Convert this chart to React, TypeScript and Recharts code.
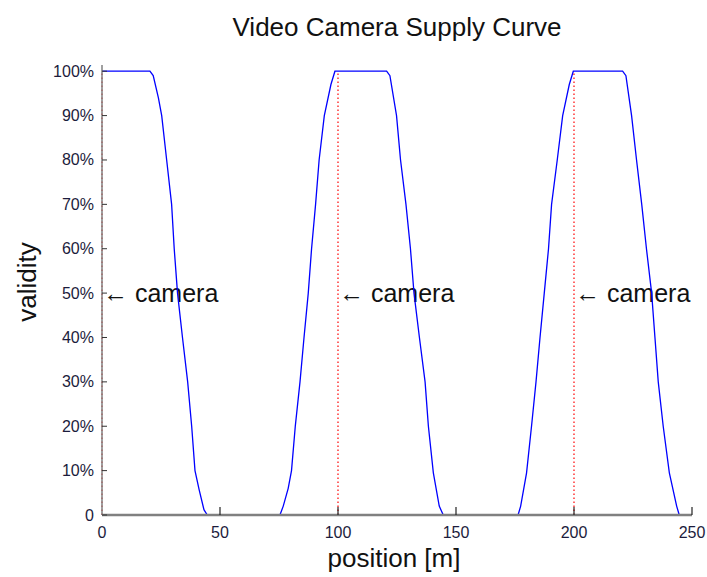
import { LineChart, Line, XAxis, YAxis, ReferenceLine } from 'recharts';

// positions along the road [m]; null validity = gap between camera zones
const positions = [
  0, 20.3, 21.7, 23.9, 25.3, 27.4, 29.5, 30.6, 32, 34.1, 36.3, 38, 39.4, 41.2, 43.2, 44.6,
  60,
  75.4, 76.8, 78.9, 80.3, 81.9, 83.9, 85.6, 87.4, 88.8, 90.5, 92, 94.2, 97, 98.7,
  120.6, 122, 124.8, 126.5, 128.8, 130.7, 132.2, 134.5, 136.9, 138.3, 140.4, 142.9, 144.6,
  160,
  176.3, 177.4, 179.9, 182, 183.9, 185.6, 187.4, 189.2, 190.5, 192.9, 195.2, 198, 199.7,
  220.6, 222, 224.4, 226.5, 228.7, 230.7, 232.9, 234.3, 235.7, 237.8, 240.4, 243.5, 244.6,
];

const validity = [
  100, 100, 99, 94, 90, 80, 70, 60, 50, 40, 30, 20, 10, 5.6, 1.2, 0,
  null,
  0, 2, 6, 10, 20, 30, 40, 50, 60, 70, 80, 90, 97, 100,
  100, 99, 90, 80, 70, 60, 50, 40, 30, 20, 9.5, 2, 0,
  null,
  0, 2, 9.5, 20, 30, 40, 50, 60, 70, 80, 90, 97, 100,
  100, 99, 90, 80, 70, 60, 50, 40, 30, 20, 9.5, 2, 0,
];

const cameras = [0, 100, 200];
const xTicks = [0, 50, 100, 150, 200, 250];
const yTicks = [0, 10, 20, 30, 40, 50, 60, 70, 80, 90, 100];

const data = positions.map((pos, i) => ({ pos, validity: validity[i] }));

const FONT = '"Liberation Sans", Arial, sans-serif';

const YTick = (props: any) => {
  const { x, y, payload } = props;
  const v = payload.value;
  return (
    <g>
      <line x1={x + 8} x2={x + 13} y1={y} y2={y} stroke="#333" strokeWidth={1} />
      <text x={x} y={y} textAnchor="end" dominantBaseline="central" fontSize={16} fontFamily={FONT} fill="#1c1c3c">
        {v === 0 ? '0' : `${v}%`}
      </text>
    </g>
  );
};

const XTick = (props: any) => {
  const { x, y, payload } = props;
  return (
    <g>
      {payload.value !== 0 && <line x1={x} x2={x} y1={y - 10} y2={y - 18} stroke="#222" strokeWidth={1.2} />}
      <text x={x} y={y + 7} textAnchor="middle" dominantBaseline="central" fontSize={16} fontFamily={FONT} fill="#1c1c3c">
        {payload.value}
      </text>
    </g>
  );
};

export default function App() {
  return (
    <div style={{ position: 'fixed', top: 0, left: 0, width: 707, height: 577, background: '#fff' }}>
      <style>{'html,body{margin:0;padding:0;overflow:hidden;}'}</style>
      <div
        style={{
          position: 'absolute',
          top: 11,
          left: 397,
          transform: 'translateX(-50%)',
          whiteSpace: 'nowrap',
          fontFamily: FONT,
          fontSize: 26,
          lineHeight: '32px',
          color: '#111',
        }}
      >
        Video Camera Supply Curve
      </div>
      <LineChart
        width={707}
        height={577}
        data={data}
        margin={{ top: 65, right: 15, left: 0, bottom: 0 }}
        style={{ overflow: 'visible' }}
      >
        <XAxis
          dataKey="pos"
          type="number"
          domain={[0, 250]}
          ticks={xTicks}
          interval={0}
          height={62}
          tickSize={0}
          tickMargin={10}
          tickLine={false}
          tick={<XTick />}
          axisLine={{ stroke: '#808080', strokeWidth: 2.5 }}
          label={{
            content: ({ viewBox }: any) => (
              <text
                x={viewBox.x + viewBox.width / 2 - 3}
                y={viewBox.y + 43}
                textAnchor="middle"
                dominantBaseline="central"
                fontSize={26}
                fontFamily={FONT}
                fill="#111"
              >
                position [m]
              </text>
            ),
          }}
        />
        <YAxis
          type="number"
          domain={[0, 101.4]}
          ticks={yTicks}
          interval={0}
          width={102}
          tickSize={0}
          tickMargin={8}
          tickLine={false}
          tick={<YTick />}
          axisLine={{ stroke: '#808080', strokeWidth: 1.5 }}
          label={{
            content: ({ viewBox }: any) => {
              const cx = viewBox.x + 27;
              const cy = viewBox.y + viewBox.height / 2 - 8;
              return (
                <text
                  x={cx}
                  y={cy}
                  transform={`rotate(-90 ${cx} ${cy})`}
                  textAnchor="middle"
                  dominantBaseline="central"
                  fontSize={26}
                  fontFamily={FONT}
                  fill="#111"
                >
                  validity
                </text>
              );
            },
          }}
        />
        {cameras.map((c) => (
          <ReferenceLine
            key={c}
            segment={[
              { x: c, y: 0 },
              { x: c, y: 100 },
            ]}
            stroke="#ff0000"
            strokeWidth={1.2}
            strokeDasharray="1.5 2.5"
            label={{
              content: ({ viewBox }: any) => (
                <text
                  x={viewBox.x + 1}
                  y={viewBox.y + viewBox.height / 2}
                  dominantBaseline="central"
                  fontSize={25}
                  fontFamily={FONT}
                  fill="#111"
                >
                  ← camera
                </text>
              ),
            }}
          />
        ))}
        <Line
          type="linear"
          dataKey="validity"
          stroke="#0000ff"
          strokeWidth={1.3}
          dot={false}
          activeDot={false}
          connectNulls={false}
          isAnimationActive={false}
        />
      </LineChart>
    </div>
  );
}
